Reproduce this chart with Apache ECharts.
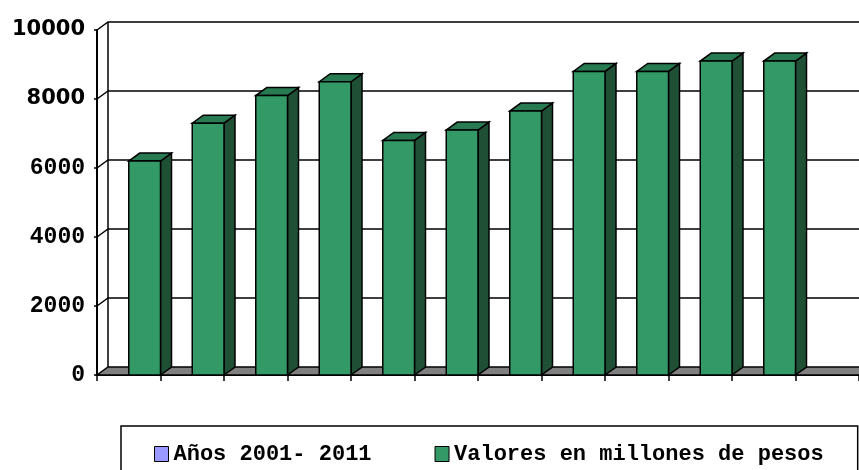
<!DOCTYPE html>
<html>
<head>
<meta charset="utf-8">
<script src="https://cdn.jsdelivr.net/npm/echarts@6/dist/echarts.min.js"></script>
<style>
  html, body { margin: 0; padding: 0; background: #fff; }
  #main { width: 859px; height: 470px; }
</style>
</head>
<body>
<div id="main"></div>
<script>
// datos
const years = ['2001', '2002', '2003', '2004', '2005', '2006', '2007', '2008', '2009', '2010', '2011', ''];
const valores = [6200, 7300, 8100, 8500, 6800, 7100, 7650, 8800, 8800, 9100, 9100];
const yTicks = [0, 2000, 4000, 6000, 8000, 10000];
const seriesNames = ['Años 2001- 2011', 'Valores en millones de pesos'];

// profundidad del efecto 3d
const DX = 11, DY = -8;
const lineBlack = { stroke: '#000', lineWidth: 1.5 };

// paredes: lineas de fondo, pared izquierda y piso
function renderWall(params, api) {
  const cs = params.coordSys;
  const v = api.value(0);
  const y = api.coord([0, v])[1];
  const x0 = cs.x, x1 = cs.x + cs.width;
  const children = [];
  if (v === 0) {
    const yTop = api.coord([0, yTicks[yTicks.length - 1]])[1];
    children.push({
      type: 'polygon',
      shape: { points: [[x0, y], [x1, y], [x1 + DX, y + DY], [x0 + DX, y + DY]] },
      style: { fill: '#808080', stroke: '#000', lineWidth: 1.5 }
    });
    children.push({
      type: 'line',
      shape: { x1: x0 + DX, y1: y + DY, x2: x0 + DX, y2: yTop + DY },
      style: lineBlack
    });
  } else {
    children.push({
      type: 'polyline',
      shape: { points: [[x0, y], [x0 + DX, y + DY], [x1 + DX, y + DY]] },
      style: { stroke: '#000', lineWidth: 1.5, fill: null }
    });
  }
  return { type: 'group', children: children };
}

// barras con cara frontal, lateral y superior
function renderBar(params, api) {
  const cat = api.value(0), val = api.value(1);
  const base = api.coord([cat, 0]);
  const top = api.coord([cat, val]);
  const bw = api.size([1, 0])[0];
  const x0 = base[0], x1 = base[0] + bw / 2;
  const y0 = base[1], y1 = top[1];
  return {
    type: 'group',
    children: [
      {
        type: 'polygon',
        shape: { points: [[x1, y0], [x1 + DX, y0 + DY], [x1 + DX, y1 + DY], [x1, y1]] },
        style: { fill: '#1f5035', stroke: '#000', lineWidth: 1.5 }
      },
      {
        type: 'polygon',
        shape: { points: [[x0, y1], [x1, y1], [x1 + DX, y1 + DY], [x0 + DX, y1 + DY]] },
        style: { fill: '#277a51', stroke: '#000', lineWidth: 1.5 }
      },
      {
        type: 'rect',
        shape: { x: x0, y: y1, width: x1 - x0, height: y0 - y1 },
        style: { fill: '#339966', stroke: '#000', lineWidth: 1.5 }
      }
    ]
  };
}

const chart = echarts.init(document.getElementById('main'));
chart.setOption({
  animation: false,
  grid: { left: 97, top: 30, right: -2, bottom: 95 },
  legend: {
    left: 121,
    top: 426,
    width: 800,
    padding: [17, 34, 20, 33],
    borderColor: '#000',
    borderWidth: 1.5,
    itemGap: 63,
    itemWidth: 14,
    itemHeight: 15,
    icon: 'rect',
    itemStyle: { borderColor: '#000', borderWidth: 1 },
    textStyle: { fontFamily: 'Liberation Mono', fontWeight: 'bold', fontSize: 22, color: '#000' },
    data: seriesNames
  },
  xAxis: {
    type: 'category',
    data: years,
    boundaryGap: true,
    axisLine: { lineStyle: { color: '#000', width: 2 } },
    axisTick: { show: true, length: 6, lineStyle: { color: '#000', width: 1.5 } },
    axisLabel: { show: false },
    splitLine: { show: false }
  },
  yAxis: {
    type: 'value',
    min: 0,
    max: 10000,
    interval: 2000,
    axisLine: { show: true, lineStyle: { color: '#000', width: 2 } },
    axisTick: { show: true, length: 3, lineStyle: { color: '#000', width: 1.5 } },
    splitLine: { show: false },
    axisLabel: {
      margin: 12,
      color: '#000',
      fontFamily: 'Liberation Mono',
      fontWeight: 'bold',
      fontSize: 23,
      formatter: function (v) {
        return v >= 8000 ? '{big|' + v + '}' : String(v);
      },
      rich: {
        big: { fontFamily: 'DejaVu Sans', fontWeight: 'bold', fontSize: 21, color: '#000' }
      }
    }
  },
  series: [
    {
      name: 'walls',
      type: 'custom',
      renderItem: renderWall,
      data: yTicks.map(v => [v]),
      encode: { y: 0 },
      silent: true,
      z: 1
    },
    {
      name: seriesNames[0],
      type: 'custom',
      itemStyle: { color: '#9999ff' },
      renderItem: function () { return null; },
      data: [],
      z: 2
    },
    {
      name: seriesNames[1],
      type: 'custom',
      itemStyle: { color: '#339966' },
      renderItem: renderBar,
      data: valores.map((v, i) => [i, v]),
      encode: { x: 0, y: 1 },
      z: 3
    }
  ]
});
</script>
</body>
</html>
